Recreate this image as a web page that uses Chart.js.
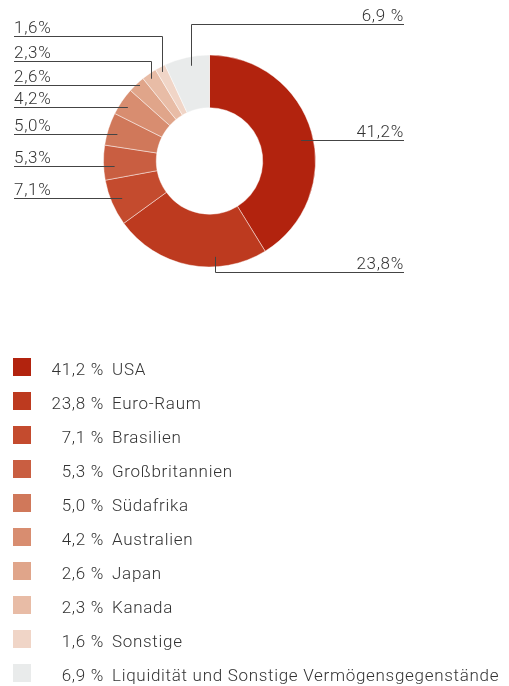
<!DOCTYPE html>
<html>
<head>
<meta charset="utf-8">
<script src="https://cdn.jsdelivr.net/npm/chart.js@4/dist/chart.umd.min.js"></script>
<style>
  html, body { margin: 0; padding: 0; background: #fff; }
  #wrap { width: 509px; height: 686px; position: relative; }
</style>
</head>
<body>
<div id="wrap"><canvas id="pie"></canvas></div>
<script>
// Data
const regions = ['USA', 'Euro-Raum', 'Brasilien', 'Großbritannien', 'Südafrika', 'Australien',
  'Japan', 'Kanada', 'Sonstige', 'Liquidität und Sonstige Vermögensgegenstände'];
const shares = [41.2, 23.8, 7.1, 5.3, 5.0, 4.2, 2.6, 2.3, 1.6, 6.9];
const sliceLabels = ['41,2%', '23,8%', '7,1%', '5,3%', '5,0%', '4,2%', '2,6%', '2,3%', '1,6%', '6,9 %'];
const legendValues = ['41,2 %', '23,8 %', '7,1 %', '5,3 %', '5,0 %', '4,2 %', '2,6 %', '2,3 %', '1,6 %', '6,9 %'];

const colors = ['#b2230e', '#bd3a1f', '#c44b2e', '#c95e41', '#d0785a', '#d88d70',
  '#e0a58a', '#e8bca6', '#f0d5c7', '#e9ebeb'];

const FONT = '300 17px Roboto, "Liberation Sans", sans-serif';
const SPACING = '0.7px';
const TEXT = '#333';
const LINE = '#444';

// leader line layout: side, where along the slice (frac), anchor radius, optional fixed line y
const leaders = [
  { side: 'right', frac: 0.52, r: 94 },
  { side: 'right', frac: 0.33, r: 96, lineY: 272 },
  { side: 'left', frac: 0.5, r: 95 },
  { side: 'left', frac: 0.4, r: 95 },
  { side: 'left', frac: 0.43, r: 96 },
  { side: 'left', frac: 0.46, r: 98 },
  { side: 'left', frac: 0.62, r: 103 },
  { side: 'left', frac: 0.41, r: 101, lineY: 61 },
  { side: 'left', frac: 0.43, r: 101, lineY: 36 },
  { side: 'right', frac: 0.56, r: 97, lineY: 24 }
];
const LEFT_X = 14, RIGHT_X = 404;

const px = v => Math.round(v) + 0.5;

const leaderPlugin = {
  id: 'leaders',
  afterDraw(chart) {
    const ctx = chart.ctx;
    const arcs = chart.getDatasetMeta(0).data;
    ctx.save();
    ctx.lineWidth = 1;
    ctx.strokeStyle = LINE;
    ctx.fillStyle = TEXT;
    ctx.font = FONT;
    ctx.letterSpacing = SPACING;
    ctx.textBaseline = 'alphabetic';
    arcs.forEach((arc, i) => {
      const L = leaders[i];
      const a = arc.startAngle + (arc.endAngle - arc.startAngle) * L.frac;
      const ax = arc.x + L.r * Math.cos(a);
      const ay = arc.y + L.r * Math.sin(a);
      const y = px(L.lineY !== undefined ? L.lineY : ay);
      const edge = L.side === 'left' ? LEFT_X : RIGHT_X;
      ctx.beginPath();
      if (L.lineY !== undefined) {
        ctx.moveTo(px(ax), ay);
        ctx.lineTo(px(ax), y);
        ctx.lineTo(edge, y);
      } else {
        ctx.moveTo(ax, y);
        ctx.lineTo(edge, y);
      }
      ctx.stroke();
      ctx.textAlign = L.side === 'left' ? 'left' : 'right';
      ctx.fillText(sliceLabels[i], edge, y - 4);
    });
    ctx.restore();
  }
};

const legendPlugin = {
  id: 'listLegend',
  afterDraw(chart) {
    const ctx = chart.ctx;
    ctx.save();
    ctx.font = FONT;
    ctx.letterSpacing = SPACING;
    ctx.textBaseline = 'alphabetic';
    regions.forEach((name, i) => {
      const top = 358 + i * 34;
      ctx.fillStyle = colors[i];
      ctx.fillRect(13, top, 18, 18);
      ctx.fillStyle = TEXT;
      ctx.textAlign = 'right';
      ctx.fillText(legendValues[i], 104, top + 17);
      ctx.textAlign = 'left';
      ctx.fillText(name, 112, top + 17);
    });
    ctx.restore();
  }
};

new Chart(document.getElementById('pie'), {
  type: 'doughnut',
  data: {
    labels: regions,
    datasets: [{
      data: shares,
      backgroundColor: colors,
      borderColor: 'rgba(255,255,255,0.45)',
      borderWidth: 1
    }]
  },
  options: {
    responsive: true,
    maintainAspectRatio: false,
    animation: false,
    radius: 106,
    cutout: 53,
    layout: { padding: { left: 103.5, right: 193.5, top: 55, bottom: 419 } },
    plugins: { legend: { display: false }, tooltip: { enabled: false } }
  },
  plugins: [leaderPlugin, legendPlugin]
});
</script>
</body>
</html>
